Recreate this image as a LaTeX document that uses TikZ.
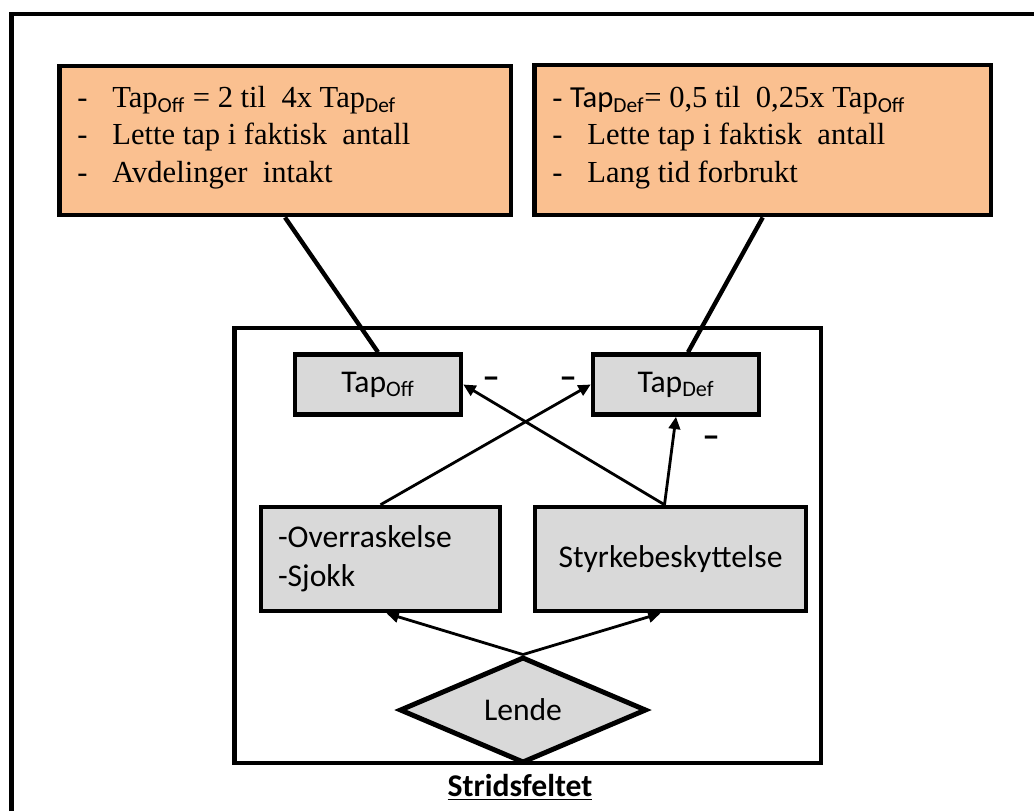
\documentclass[tikz,border=0pt]{standalone}
\usepackage{fontspec}
\setmainfont{Liberation Serif}
\setsansfont{Carlito}
\usetikzlibrary{arrows.meta}
\usetikzlibrary{calc,positioning}
\usetikzlibrary{shapes.geometric}

\definecolor{notefill}{HTML}{FAC090}
\definecolor{boxfill}{HTML}{D9D9D9}

\newcommand{\dashlead}{\makebox[0.7cm][l]{-}}
\newcommand{\tapsub}[1]{\textsubscript{\sffamily #1}}

\tikzset{
    note/.style={draw, line width=2.8pt, fill=notefill, inner sep=0pt},
    notetext/.style={anchor=north west, inner sep=0pt, align=left, font=\fontsize{17.4}{21.3}\selectfont},
    graybox/.style={draw, line width=2.6pt, fill=boxfill, font=\sffamily\fontsize{18}{22}\selectfont},
    thicklink/.style={line width=2.5pt},
    arrowline/.style={->, line width=1.6pt},
    minus/.style={font=\sffamily\bfseries\fontsize{20}{22}\selectfont, inner sep=0pt}
}

\begin{document}
\begin{tikzpicture}[x=0.02cm, y=-0.02cm, >={Triangle[length=7pt,width=6.5pt]}]
    \useasboundingbox (0,0) rectangle (1034,811);
    \draw[line width=2.8pt] (11.5,811) -- (11.5,14) -- (1034,14);

    % notes on top
    \node[note, minimum width=9.04cm, minimum height=2.98cm] (offnote) at (285,140.5) {};
    \node[notetext] (offtext) at (77,86) {\dashlead Tap\tapsub{Off} = 2 til~ 4x Tap\tapsub{Def}\\
        \dashlead Lette tap i faktisk~ antall\\
        \dashlead Avdelinger~ intakt};
    \node[note, minimum width=9.13cm, minimum height=3cm] (defnote) at (762.75,140) {};
    \node[notetext] (deftext) at (552,86) {- {\sffamily Tap}\tapsub{Def}= 0,5 til~ 0,25x Tap\tapsub{Off}\\
        \dashlead Lette tap i faktisk~ antall\\
        \dashlead Lang tid forbrukt};

    % the field
    \node[draw, line width=2.6pt, minimum width=11.73cm, minimum height=8.7cm, inner sep=0pt] (field) at (527.75,545.5) {};
    \node[font=\sffamily\bfseries\fontsize{18}{22}\selectfont] (fieldname) at (520,787) {\underline{Stridsfeltet}};

    \node[graybox, minimum width=3.32cm, minimum height=1.2cm] (tapoff) at (378,384.5) {Tap\tapsub{Off}};
    \node[graybox, minimum width=3.32cm, minimum height=1.2cm] (tapdef) at (676,384.5) {Tap\tapsub{Def}};
    \node[graybox, minimum width=4.78cm, minimum height=2.08cm, text width=4.1cm, inner xsep=0.34cm, align=left] (surprise) at (380.5,559) {-Overraskelse\\-Sjokk};
    \node[graybox, minimum width=5.42cm, minimum height=2.08cm] (protect) at (670.5,559) {Styrkebeskyttelse};
    \node[graybox, diamond, aspect=2.33, line width=2.8pt, minimum width=4.94cm, minimum height=2.12cm, inner sep=0pt] (terrain) at (523,710) {Lende};

    \node[minus] (m1) at (491,383) {--};
    \node[minus] (m2) at (568,383) {--};
    \node[minus] (m3) at (711,442) {--};

    \draw[thicklink] (offnote.south) -- (tapoff.north);
    \draw[thicklink] (defnote.south) -- ($(tapdef.north)+(12,0)$);

    \coordinate (protfoot) at ($(protect.north)+(-6,0)$);
    \draw[arrowline] (surprise.north) -- (tapdef.west);
    \draw[arrowline] (protfoot) -- (tapoff.east);
    \draw[arrowline] (protfoot) -- (tapdef.south);
    \draw[arrowline] (terrain.north) -- ($(surprise.south)+(6,0)$);
    \draw[arrowline] (terrain.north) -- ($(protect.south)+(-10,0)$);
\end{tikzpicture}
\end{document}
